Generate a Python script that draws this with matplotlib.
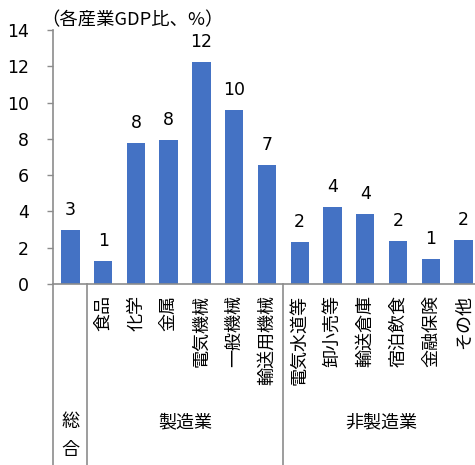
import matplotlib
matplotlib.use("Agg")
import matplotlib.pyplot as plt
import numpy as np

plt.rcParams['font.family'] = ['DejaVu Sans', 'Noto Sans CJK JP']

# data
categories = ['総合', '食品', '化学', '金属', '電気機械', '一般機械', '輸送用機械',
              '電気水道等', '卸小売等', '輸送倉庫', '宿泊飲食', '金融保険', 'その他']
values = [2.97, 1.28, 7.75, 7.91, 12.23, 9.6, 6.54,
          2.29, 4.25, 3.87, 2.35, 1.38, 2.42]
value_labels = ['3', '1', '8', '8', '12', '10', '7', '2', '4', '4', '2', '1', '2']
yticks = [0, 2, 4, 6, 8, 10, 12, 14]
group_labels = ['製造業', '非製造業']
group_centers = [3.5, 9.5]
separators = [0.5, 6.5]

BLUE = '#4472C4'
GRAY = '#8c8c8c'
TXT = '#000000'
JP = ['Noto Sans CJK JP', 'DejaVu Sans']

fig = plt.figure(figsize=(4.75, 4.65), dpi=100)
ax = fig.add_axes([0.1116, 0.3892, 0.8884, 0.5465])

x = np.arange(len(categories))
ax.bar(x, values, width=0.56, color=BLUE, zorder=2)

for xi, v, lab in zip(x, values, value_labels):
    ax.annotate(lab, (xi, v), xytext=(0, 8), textcoords='offset points',
                ha='center', va='bottom', fontsize=12.5, color=TXT)

ax.set_xlim(-0.53, 12.35)
ax.set_ylim(0, 14)
ax.set_yticks(yticks)
ax.tick_params(axis='y', length=4.5, width=1.0, color=GRAY, labelsize=12.5,
               labelcolor=TXT, pad=13)
ax.set_xticks(x)
# the total column is labelled below with the group names instead
ax.set_xticklabels([c if i > 0 else '' for i, c in enumerate(categories)],
                   rotation=90, fontsize=13, color=TXT, va='top', ha='center',
                   family=JP)
ax.tick_params(axis='x', length=0, pad=8)

for s in ['top', 'right']:
    ax.spines[s].set_visible(False)
for s in ['left', 'bottom']:
    ax.spines[s].set_color(GRAY)
    ax.spines[s].set_linewidth(1.2)

# extend left axis and separators down through the category area
trans = ax.get_xaxis_transform()
ax.plot([-0.53, -0.53], [0, -0.72], transform=trans, color=GRAY, lw=1.2, clip_on=False)
for sx in separators:
    ax.plot([sx, sx], [0, -0.72], transform=trans, color=GRAY, lw=1.2, clip_on=False)

# 総合 written vertically, one character per line
for ch, gy in zip(categories[0], [-0.543, -0.654]):
    ax.text(0, gy, ch, transform=trans, ha='center', va='center',
            fontsize=13, color=TXT, family=JP)
for lab, gx in zip(group_labels, group_centers):
    ax.text(gx, -0.543, lab, transform=trans, ha='center', va='center',
            fontsize=13, color=TXT, family=JP)

fig.text(0.086, 0.957, '（各産業GDP比、%）', ha='left', va='center',
         fontsize=13.2, color=TXT, family=JP)

fig.savefig('out.png', dpi=100)
